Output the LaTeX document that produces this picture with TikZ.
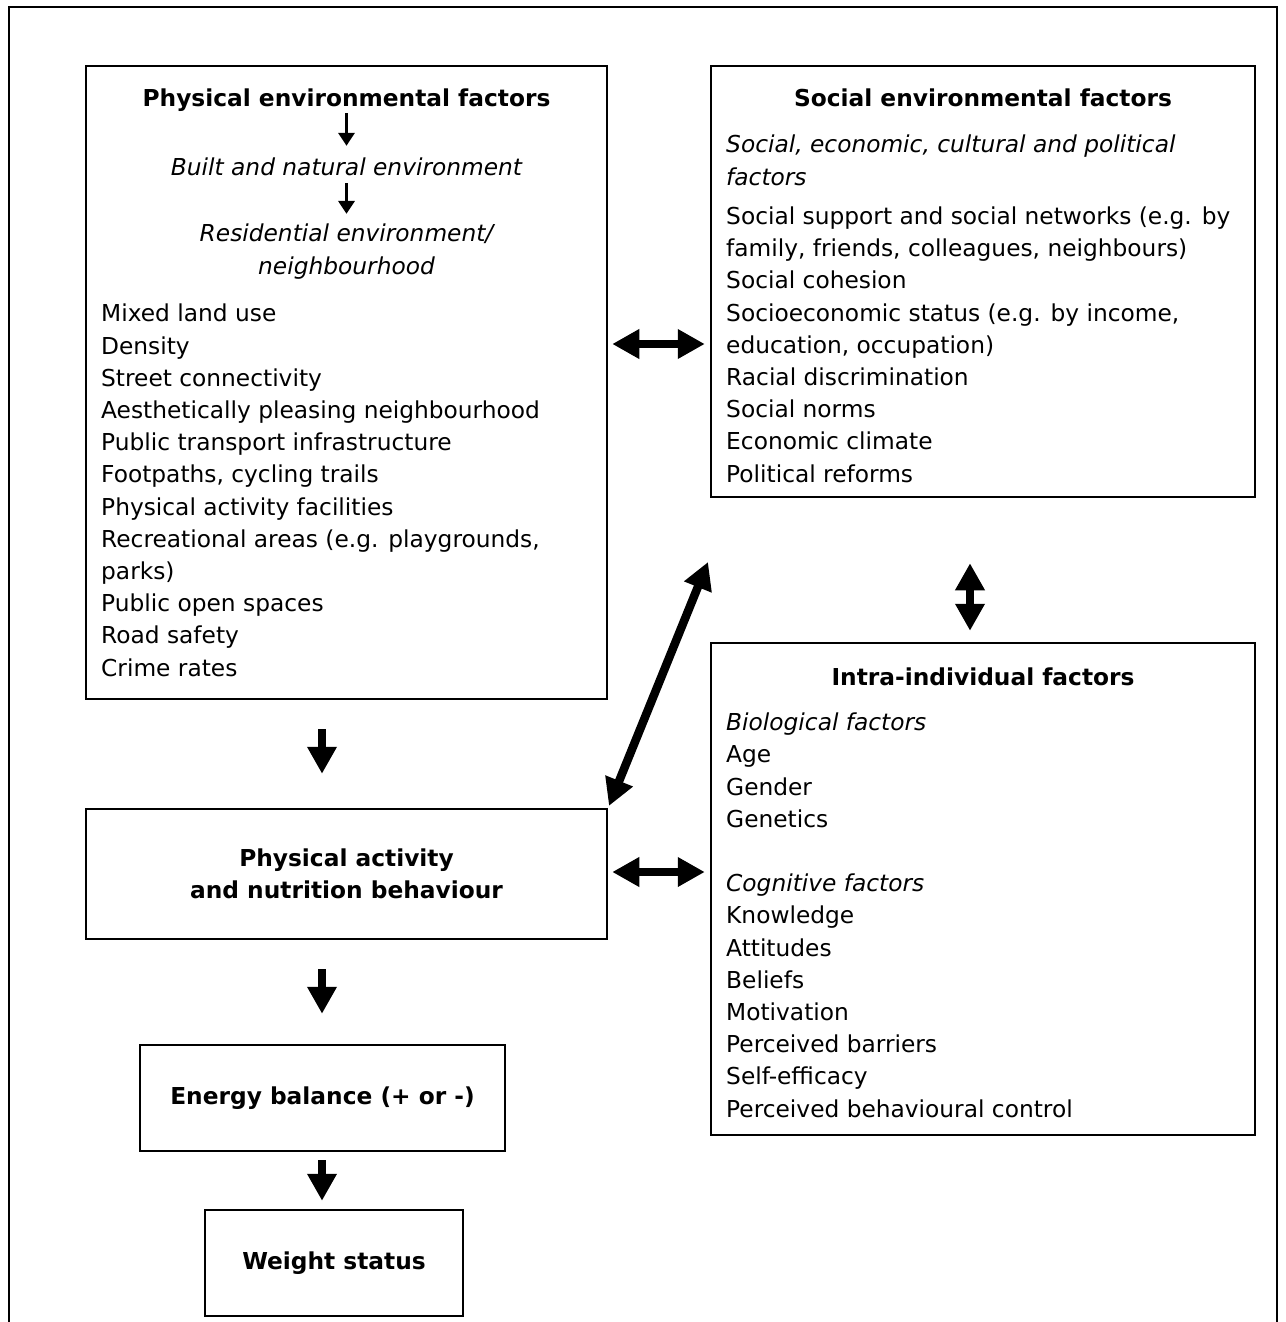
\documentclass[tikz,border=0pt]{standalone}
\usepackage{fontspec}
\setmainfont{DejaVu Sans}
\usetikzlibrary{arrows.meta,positioning,calc}

\begin{document}
\begin{tikzpicture}[
  x=1pt, y=-1pt,
  every node/.style={font=\fontsize{23.3}{32.2}\selectfont, inner sep=0pt},
  frame/.style={draw, line width=2.5pt},
  head/.style={font=\fontsize{23.3}{32.2}\selectfont\bfseries, anchor=base, text height=17pt, text depth=6pt},
  sub/.style={font=\fontsize{23.3}{32.2}\selectfont\itshape, anchor=base, align=center},
  list/.style={anchor=base west, align=left},
  bigarr/.style={-{Triangle[length=27pt,width=28pt]}, line width=8.5pt},
  dblarr/.style={{Triangle[length=27pt,width=28pt]}-{Triangle[length=27pt,width=28pt]}, line width=8.5pt},
  smallarr/.style={-{Triangle[length=13pt,width=16pt]}, line width=3.5pt},
]
\useasboundingbox (0,0) rectangle (1285,1322);

% outer frame, open at the bottom
\draw[line width=2.5pt] (9,1322) -- (9,7) -- (1277,7) -- (1277,1322);

% boxes
\node[frame, minimum width=521pt, minimum height=633pt] (phys) at (346.5,382.5) {};
\node[frame, minimum width=544pt, minimum height=431pt] (social) at (983,281.5) {};
\node[frame, minimum width=544pt, minimum height=492pt] (intra) at (983,889) {};
\node[frame, minimum width=521pt, minimum height=130pt, align=center, font=\fontsize{23.3}{32.2}\selectfont\bfseries] (pa) at (346.5,874) {Physical activity\\and nutrition behaviour};
\node[frame, minimum width=365pt, minimum height=106pt, font=\fontsize{23.3}{32.2}\selectfont\bfseries] (energy) at (322.5,1098) {Energy balance (+ or -)};
\node[frame, minimum width=258pt, minimum height=106pt, font=\fontsize{23.3}{32.2}\selectfont\bfseries] (weight) at (334,1263) {Weight status};

% physical environment (multi-line nodes sit on their last baseline)
\node[head] (phystitle) at (346.5,106) {Physical environmental factors};
\node[sub, text height=17pt, text depth=6pt] (built) at (346.5,175) {Built and natural environment};
\node[sub] (resid) at (346.5,274) {Residential environment/\\neighbourhood};
\node[list] (physlist) at (101,676) {Mixed land use\\Density\\Street connectivity\\Aesthetically pleasing neighbourhood\\Public transport infrastructure\\Footpaths, cycling trails\\Physical activity facilities\\Recreational areas (e.g. playgrounds,\\parks)\\Public open spaces\\Road safety\\Crime rates};

\draw[smallarr, shorten <=1pt, shorten >=12pt] (phystitle.south) -- (built.north);
\draw[smallarr, shorten <=2pt, shorten >=10pt] (built.south) -- (resid.north);

% social environment
\node[head] (soctitle) at (983,106) {Social environmental factors};
\node[sub, anchor=base west, align=left] (socsub) at (726,185) {Social, economic, cultural and political\\factors};
\node[list] (soclist) at (726,482) {Social support and social networks (e.g. by\\family, friends, colleagues, neighbours)\\Social cohesion\\Socioeconomic status (e.g. by income,\\education, occupation)\\Racial discrimination\\Social norms\\Economic climate\\Political reforms};

% intra-individual
\node[head] (intratitle) at (983,685) {Intra-individual factors};
\node[list] (intralist) at (726,1117) {\textit{Biological factors}\\Age\\Gender\\Genetics\\[32.2pt]\textit{Cognitive factors}\\Knowledge\\Attitudes\\Beliefs\\Motivation\\Perceived barriers\\Self-efficacy\\Perceived behavioural control};

% connectors
\coordinate (colA) at (322,0);
\coordinate (colB) at (970,0);
\coordinate (rowA) at (0,344);
\coordinate (rowB) at (0,872);
\coordinate (diagtop) at (708,562);

\draw[bigarr, shorten <=29pt, shorten >=34pt] (phys.south -| colA) -- (pa.north -| colA);
\draw[bigarr, shorten <=29pt, shorten >=30pt] (pa.south -| colA) -- (energy.north -| colA);
\draw[bigarr, shorten <=8pt, shorten >=8pt] (energy.south -| colA) -- (weight.north -| colA);
\draw[dblarr, shorten <=4pt, shorten >=5pt] (phys.east |- rowA) -- (social.west |- rowA);
\draw[dblarr, shorten <=4pt, shorten >=5pt] (pa.east |- rowB) -- (intra.west |- rowB);
\draw[dblarr, shorten <=65pt, shorten >=11pt] (social.south -| colB) -- (intra.north -| colB);
\draw[dblarr, shorten <=2pt] (pa.north east) -- (diagtop);

\end{tikzpicture}
\end{document}
